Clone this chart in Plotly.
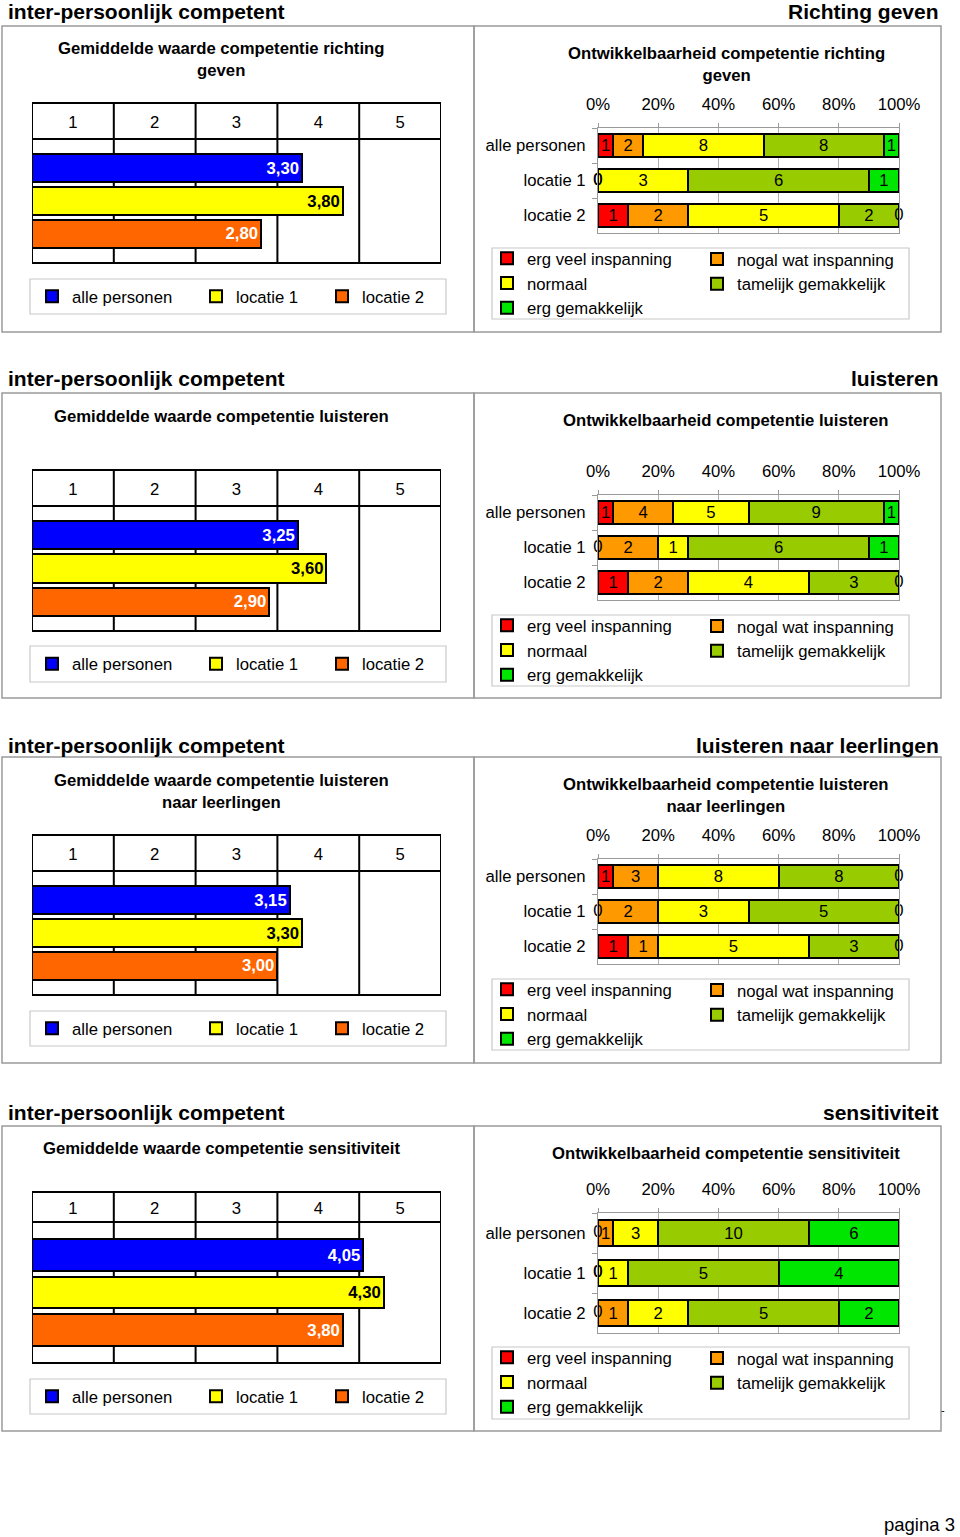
import plotly.graph_objects as go

W, H = 960, 1537
FONT = "Liberation Sans"
FS = 16.7

# ---------------- data ----------------
main_header = "inter-persoonlijk competent"
section_headers = ["Richting geven", "luisteren", "luisteren naar leerlingen", "sensitiviteit"]
mean_titles = [
    "Gemiddelde waarde competentie richting<br>geven",
    "Gemiddelde waarde competentie luisteren",
    "Gemiddelde waarde competentie luisteren<br>naar leerlingen",
    "Gemiddelde waarde competentie sensitiviteit",
]
dev_titles = [
    "Ontwikkelbaarheid competentie richting<br>geven",
    "Ontwikkelbaarheid competentie luisteren",
    "Ontwikkelbaarheid competentie luisteren<br>naar leerlingen",
    "Ontwikkelbaarheid competentie sensitiviteit",
]
groups = ["alle personen", "locatie 1", "locatie 2"]
scale_ticks = ["1", "2", "3", "4", "5"]
scale_tick_pos = [0.5, 1.5, 2.5, 3.5, 4.5]
pct_ticks = [0, 20, 40, 60, 80, 100]
pct_tick_text = ["0%", "20%", "40%", "60%", "80%", "100%"]

mean_richting = [3.30, 3.80, 2.80]
mean_luisteren = [3.25, 3.60, 2.90]
mean_leerlingen = [3.15, 3.30, 3.00]
mean_sensitiviteit = [4.05, 4.30, 3.80]

levels = ["erg veel inspanning", "nogal wat inspanning", "normaal",
          "tamelijk gemakkelijk", "erg gemakkelijk"]
# rows: alle personen, locatie 1, locatie 2 ; columns: levels
cnt_richting = [[1, 2, 8, 8, 1], [0, 0, 3, 6, 1], [1, 2, 5, 2, 0]]
cnt_luisteren = [[1, 4, 5, 9, 1], [0, 2, 1, 6, 1], [1, 2, 4, 3, 0]]
cnt_leerlingen = [[1, 3, 8, 8, 0], [0, 2, 3, 5, 0], [1, 1, 5, 3, 0]]
cnt_sensitiviteit = [[0, 1, 3, 10, 6], [0, 0, 1, 5, 4], [0, 1, 2, 5, 2]]

means = [mean_richting, mean_luisteren, mean_leerlingen, mean_sensitiviteit]
counts = [cnt_richting, cnt_luisteren, cnt_leerlingen, cnt_sensitiviteit]

# ---------------- styles / geometry ----------------
group_colors = ["#0000FF", "#FFFF00", "#FF6600"]
group_text_colors = ["white", "black", "white"]
level_colors = ["#FF0000", "#FF9900", "#FFFF00", "#99CC00", "#00E600"]

GEO = [
    dict(top=26, bot=332, head=10, lt=60, lhead=103, lplot=(139, 263), lleg=(279, 314),
         rt=64, rplot=(128, 233), rleg=(248, 319)),
    dict(top=393, bot=698, head=377, lt=416, lhead=470, lplot=(506, 631), lleg=(646, 682),
         rt=421, rplot=(495, 600), rleg=(615, 686)),
    dict(top=757, bot=1063, head=744, lt=791, lhead=835, lplot=(871, 995), lleg=(1011, 1046),
         rt=795, rplot=(859, 964), rleg=(979, 1050)),
    dict(top=1126, bot=1431, head=1111, lt=1148, lhead=1192, lplot=(1222, 1363), lleg=(1379, 1414),
         rt=1153, rplot=(1213, 1333), rleg=(1347, 1419)),
]
LX = (32, 441)
RX = (598, 899)
left_leg_text_x = [70, 234, 360]
right_leg_text_x = [525, 735]


def fx(px):
    return px / W


def fy(py):
    return 1 - py / H


fig = go.Figure()
layout = dict(
    width=W, height=H, margin=dict(l=0, r=0, t=0, b=0, pad=0), autosize=False,
    paper_bgcolor="white", plot_bgcolor="white",
    barmode="stack", showlegend=True,
    font=dict(family=FONT, size=FS, color="black"),
)
shapes = []
annotations = []
legend_count = [0]


def new_legend(x_text, y_center):
    legend_count[0] += 1
    k = legend_count[0]
    name = "legend" if k == 1 else f"legend{k}"
    layout[name] = dict(
        x=fx(x_text - 40 + 2), xanchor="left", y=fy(y_center), yanchor="middle",
        bgcolor="rgba(0,0,0,0)", borderwidth=0, orientation="v", traceorder="normal",
        font=dict(family=FONT, size=FS, color="black"), tracegroupgap=0,
    )
    return name


GRAY = "#9a9a9a"

for s, g in enumerate(GEO):
    nl = 2 * s + 1
    nr = 2 * s + 2
    xl = "x" if nl == 1 else f"x{nl}"
    yl = "y" if nl == 1 else f"y{nl}"
    xr = f"x{nr}"
    yr = f"y{nr}"

    # ---- outer boxes and headings
    shapes.append(dict(type="rect", xref="paper", yref="paper", x0=fx(2), x1=fx(474),
                       y0=fy(g["bot"]), y1=fy(g["top"]), line=dict(color=GRAY, width=1.5)))
    shapes.append(dict(type="rect", xref="paper", yref="paper", x0=fx(474), x1=fx(941),
                       y0=fy(g["bot"]), y1=fy(g["top"]), line=dict(color=GRAY, width=1.5)))
    annotations.append(dict(text=main_header, xref="paper", yref="paper", x=fx(6), y=fy(g["head"] + 1),
                            xanchor="left", yanchor="middle", showarrow=False,
                            font=dict(family=FONT, size=21, color="black", weight="bold")))
    annotations.append(dict(text=section_headers[s], xref="paper", yref="paper", x=fx(941), y=fy(g["head"] + 1),
                            xanchor="right", yanchor="middle", showarrow=False,
                            font=dict(family=FONT, size=21, color="black", weight="bold")))
    annotations.append(dict(text=mean_titles[s], xref="paper", yref="paper", x=fx(221), y=fy(g["lt"]),
                            xanchor="center", yanchor="middle", showarrow=False,
                            font=dict(family=FONT, size=FS, color="black", weight="bold")))
    annotations.append(dict(text=dev_titles[s], xref="paper", yref="paper", x=fx(726), y=fy(g["rt"]),
                            xanchor="center", yanchor="middle", showarrow=False,
                            font=dict(family=FONT, size=FS, color="black", weight="bold")))

    # ---- left chart: mean values
    ptop, pbot = g["lplot"]
    hdr_h = ptop - g["lhead"]
    layout["xaxis" if nl == 1 else f"xaxis{nl}"] = dict(
        domain=[fx(LX[0]), fx(LX[1])], range=[0, 5], side="top", anchor=yl,
        tickmode="array", tickvals=scale_tick_pos, ticktext=scale_ticks,
        showgrid=False, zeroline=False, showline=False, ticks="", automargin=False,
        ticklabelstandoff=int(max(round(hdr_h / 2 - 11), 0)), tickfont=dict(size=FS), fixedrange=True,
    )
    layout["yaxis" if nl == 1 else f"yaxis{nl}"] = dict(
        domain=[fy(pbot), fy(ptop)], range=[2.88, -0.88], anchor=xl, automargin=False,
        showticklabels=False, showgrid=False, zeroline=False, showline=False, ticks="",
        fixedrange=True,
    )
    for i, grp in enumerate(groups):
        lg = new_legend(left_leg_text_x[i], (g["lleg"][0] + g["lleg"][1]) / 2)
        v = means[s][i]
        fig.add_trace(go.Bar(
            x=[v], y=[grp], orientation="h", name=grp, xaxis=xl, yaxis=yl, legend=lg,
            width=0.85,
            marker=dict(color=group_colors[i], line=dict(color="black", width=2)),
            text=[f"{v:.2f}".replace(".", ",")], textposition="inside", insidetextanchor="end",
            constraintext="none", textangle=0,
            textfont=dict(family=FONT, size=FS, color=group_text_colors[i], weight="bold"),
            hoverinfo="skip",
        ))
    # frame and grid lines of left chart
    shapes.append(dict(type="rect", xref=xl, yref="paper", x0=0, x1=5, y0=fy(pbot), y1=fy(ptop),
                       line=dict(color="black", width=2), layer="above"))
    shapes.append(dict(type="rect", xref=xl, yref="paper", x0=0, x1=5, y0=fy(ptop), y1=fy(g["lhead"]),
                       line=dict(color="black", width=2), layer="above"))
    for xv in [1, 2, 3, 4]:
        shapes.append(dict(type="line", xref=xl, yref="paper", x0=xv, x1=xv, y0=fy(ptop), y1=fy(g["lhead"]),
                           line=dict(color="black", width=2)))
        shapes.append(dict(type="line", xref=xl, yref="paper", x0=xv, x1=xv, y0=fy(pbot), y1=fy(ptop),
                           line=dict(color="black", width=2), layer="below"))
    shapes.append(dict(type="rect", xref="paper", yref="paper", x0=fx(30), x1=fx(446),
                       y0=fy(g["lleg"][1]), y1=fy(g["lleg"][0]), line=dict(color="#c8c8c8", width=1.2)))

    # ---- right chart: stacked percentages
    rtop, rbot = g["rplot"]
    layout[f"xaxis{nr}"] = dict(
        domain=[fx(RX[0]), fx(RX[1])], range=[0, 100], side="top", anchor=yr,
        tickmode="array", tickvals=pct_ticks, ticktext=pct_tick_text,
        showgrid=True, gridcolor="#b0b0b0", gridwidth=1, zeroline=False,
        showline=True, linecolor=GRAY, linewidth=1, mirror=True, automargin=False,
        ticks="outside", ticklen=4, tickcolor=GRAY, ticklabelstandoff=6,
        tickfont=dict(size=FS), fixedrange=True,
    )
    layout[f"yaxis{nr}"] = dict(
        domain=[fy(rbot), fy(rtop)], range=[2.5, -0.5], anchor=xr, automargin=False,
        showgrid=False, zeroline=False, showline=True, linecolor=GRAY, linewidth=1, mirror=True,
        ticks="outside", tickson="boundaries", ticklen=5, tickcolor=GRAY, ticklabelstandoff=8,
        tickfont=dict(size=FS), fixedrange=True,
    )
    rl_top = g["rleg"][0]
    lg_col1 = new_legend(right_leg_text_x[0], rl_top + 12 + 23.5)
    lg_col2 = new_legend(right_leg_text_x[1], rl_top + 12 + 11.75)
    cnt = counts[s]
    zero_x, zero_y = [], []
    for li, lev in enumerate(levels):
        vals = [row[li] for row in cnt]
        pcts = [row[li] / sum(row) * 100 for row in cnt]
        for gi, row in enumerate(cnt):
            if row[li] == 0:
                zero_x.append(sum(row[:li]) / sum(row) * 100)
                zero_y.append(groups[gi])
        fig.add_trace(go.Bar(
            x=pcts, y=groups, orientation="h", name=lev, xaxis=xr, yaxis=yr,
            legend=lg_col1 if li in (0, 2, 4) else lg_col2,
            width=0.66,
            marker=dict(color=level_colors[li], line=dict(color="black", width=2)),
            text=[str(v) if v else "" for v in vals], textposition="inside", insidetextanchor="middle",
            constraintext="none", textangle=0,
            textfont=dict(family=FONT, size=FS, color="black"),
            hoverinfo="skip",
        ))
    # labels of empty (zero) segments, drawn on the segment boundary
    fig.add_trace(go.Scatter(
        x=zero_x, y=zero_y, mode="text", text=["0"] * len(zero_x), textposition="middle center",
        textfont=dict(family=FONT, size=FS, color="black"), xaxis=xr, yaxis=yr,
        showlegend=False, cliponaxis=False, hoverinfo="skip",
    ))
    shapes.append(dict(type="rect", xref="paper", yref="paper", x0=fx(492), x1=fx(909),
                       y0=fy(g["rleg"][1]), y1=fy(g["rleg"][0]), line=dict(color="#c8c8c8", width=1.2)))

annotations.append(dict(text="-", xref="paper", yref="paper", x=fx(943), y=fy(1410),
                        xanchor="center", yanchor="middle", showarrow=False,
                        font=dict(family=FONT, size=11, color="black")))
annotations.append(dict(text="pagina 3", xref="paper", yref="paper", x=fx(957), y=fy(1524),
                        xanchor="right", yanchor="middle", showarrow=False,
                        font=dict(family=FONT, size=18.5, color="black")))

layout["shapes"] = shapes
layout["annotations"] = annotations
fig.update_layout(**layout)
fig.write_html("out.html", config={"responsive": False, "displayModeBar": False},
               post_script="document.body.style.margin='0';document.body.style.overflow='hidden';")
